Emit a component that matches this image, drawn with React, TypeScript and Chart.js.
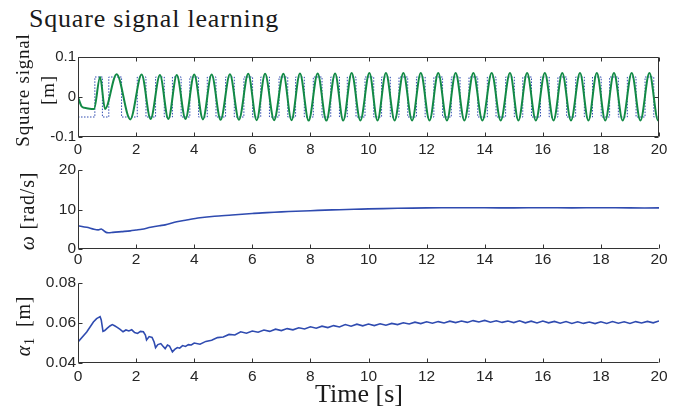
import React, { useEffect, useRef } from "react";
import { Chart, registerables } from "chart.js";

Chart.register(...registerables);

// Shared time axis
const timeTicks = [0, 2, 4, 6, 8, 10, 12, 14, 16, 18, 20];

// Learned oscillator output: turning points (s, m)
const outTimes = [
  0, 0.13, 0.3, 0.55, 0.76, 0.93, 1.33, 1.8, 2.19, 2.5, 2.82, 3.11, 3.4, 3.7, 4.0, 4.3, 4.6, 4.91,
  5.23, 5.54, 5.86, 6.15, 6.44, 6.75, 7.07, 7.35, 7.64, 7.94, 8.25, 8.55, 8.85, 9.13, 9.42, 9.72,
  10.03, 10.31, 10.6, 10.9, 11.2, 11.5, 11.8, 12.1, 12.4, 12.7, 13.0, 13.3, 13.61, 13.92, 14.24,
  14.55, 14.87, 15.16, 15.46, 15.76, 16.07, 16.37, 16.67, 16.97, 17.28, 17.57, 17.86, 18.15, 18.45,
  18.75, 19.06, 19.36, 19.67, 19.97, 20.0,
];
const outValues = [
  0, -0.024, -0.028, -0.03, 0.05, -0.03, 0.057, -0.056, 0.056, -0.055, 0.055, -0.055, 0.055, -0.055,
  0.056, -0.056, 0.056, -0.057, 0.057, -0.057, 0.058, -0.058, 0.058, -0.058, 0.058, -0.058, 0.059,
  -0.059, 0.059, -0.059, 0.059, -0.059, 0.06, -0.059, 0.06, -0.059, 0.06, -0.059, 0.06, -0.059, 0.06,
  -0.059, 0.06, -0.059, 0.06, -0.059, 0.06, -0.059, 0.06, -0.059, 0.06, -0.059, 0.06, -0.059, 0.06,
  -0.059, 0.06, -0.059, 0.06, -0.059, 0.06, -0.059, 0.06, -0.059, 0.06, -0.059, 0.06, -0.059, -0.0588,
];

// Teaching square signal: switching instants (s) and the level after each switch (m)
const squareTimes = [
  0, 0.58, 0.84, 1.06, 1.5, 2.04, 2.34, 2.67, 2.97, 3.25, 3.55, 3.85, 4.15, 4.45, 4.75, 5.08, 5.38,
  5.71, 6.01, 6.29, 6.59, 6.92, 7.22, 7.49, 7.79, 8.1, 8.4, 8.7, 9.0, 9.27, 9.57, 9.88, 10.18, 10.45,
  10.75, 11.05, 11.35, 11.65, 11.95, 12.25, 12.55, 12.85, 13.15, 13.46, 13.76, 14.09, 14.39, 14.72,
  15.02, 15.31, 15.61, 15.92, 16.22, 16.52, 16.82, 17.13, 17.43, 17.71, 18.01, 18.3, 18.6, 18.91,
  19.21, 19.52, 19.82, 20.0,
];
const squareLevels = [
  -0.05, 0.05, -0.05, 0.05, -0.05, 0.05, -0.05, 0.05, -0.05, 0.05, -0.05, 0.05, -0.05, 0.05, -0.05,
  0.05, -0.05, 0.05, -0.05, 0.05, -0.05, 0.05, -0.05, 0.05, -0.05, 0.05, -0.05, 0.05, -0.05, 0.05,
  -0.05, 0.05, -0.05, 0.05, -0.05, 0.05, -0.05, 0.05, -0.05, 0.05, -0.05, 0.05, -0.05, 0.05, -0.05,
  0.05, -0.05, 0.05, -0.05, 0.05, -0.05, 0.05, -0.05, 0.05, -0.05, 0.05, -0.05, 0.05, -0.05, 0.05,
  -0.05, 0.05, -0.05, 0.05, -0.05, -0.05,
];

// Frequency estimate (s, rad/s)
const omegaTimes = [
  0, 0.3, 0.55, 0.7, 0.8, 0.9, 1.0, 1.2, 1.5, 1.8, 2.0, 2.2, 2.5, 2.8, 3.0, 3.4, 3.7, 4.2, 4.7,
  5.3, 6.0, 6.5, 7.0, 7.5, 8.0, 8.5, 9.0, 9.5, 10, 11, 12, 13, 14, 15, 16, 17, 18, 19, 20,
];
const omegaValues = [
  5.9, 5.5, 5.0, 4.85, 5.05, 4.55, 4.15, 4.2, 4.4, 4.6, 4.8, 5.0, 5.5, 5.9, 6.1, 6.9, 7.3, 7.9, 8.3,
  8.6, 9.0, 9.2, 9.4, 9.55, 9.7, 9.85, 9.95, 10.05, 10.15, 10.3, 10.4, 10.45, 10.45, 10.4, 10.45,
  10.4, 10.45, 10.4, 10.4,
];

// Amplitude estimate (s, m)
const alphaTimes = [
  0, 0.3, 0.53, 0.64, 0.7, 0.76, 0.8, 0.86, 0.92, 1.0, 1.1, 1.18, 1.26, 1.35, 1.45, 1.55, 1.65, 1.75,
  1.85, 1.95, 2.05, 2.15, 2.25, 2.32, 2.36, 2.45, 2.55, 2.62, 2.67, 2.75, 2.85, 2.92, 3.0, 3.08, 3.15,
  3.25, 3.33, 3.42, 3.5, 3.6, 3.7, 3.8, 3.9,
  4.0, 4.2, 4.4, 4.6, 4.8, 5.0, 5.2, 5.4, 5.6, 5.8, 6.0, 6.2, 6.4, 6.6, 6.8, 7.0, 7.2, 7.4, 7.6, 7.8,
  8.0, 8.2, 8.4, 8.6, 8.8, 9.0, 9.2, 9.4, 9.6, 9.8, 10.0, 10.2, 10.4, 10.6, 10.8, 11.0, 11.2, 11.4,
  11.6, 11.8, 12.0, 12.2, 12.4, 12.6, 12.8, 13.0, 13.2, 13.4, 13.6, 13.8, 14.0, 14.2, 14.4, 14.6,
  14.8, 15.0, 15.2, 15.4, 15.6, 15.8, 16.0, 16.2, 16.4, 16.6, 16.8, 17.0, 17.2, 17.4, 17.6, 17.8,
  18.0, 18.2, 18.4, 18.6, 18.8, 19.0, 19.2, 19.4, 19.6, 19.8, 20.0,
];
const alphaValues = [
  0.0505, 0.0555, 0.0605, 0.0622, 0.0627, 0.0632, 0.0615, 0.0558, 0.0562, 0.0573, 0.0585, 0.0592,
  0.0586, 0.0578, 0.0568, 0.0556, 0.0565, 0.056, 0.0566, 0.0552, 0.0548, 0.0558, 0.0556, 0.054,
  0.0515, 0.0532, 0.0528, 0.0505, 0.0477, 0.0492, 0.0497, 0.0485, 0.0472, 0.049, 0.0485, 0.0456,
  0.0468, 0.0477, 0.0474, 0.0487, 0.0483, 0.0492, 0.049,
  0.05, 0.0494, 0.0508, 0.0514, 0.0527, 0.053, 0.0543, 0.054, 0.0556, 0.0549, 0.056, 0.0554, 0.0565,
  0.0558, 0.0569, 0.0562, 0.0572, 0.0566, 0.0576, 0.057, 0.0581, 0.0574, 0.0584, 0.0577, 0.0587,
  0.058, 0.0592, 0.0584, 0.0594, 0.0586, 0.0595, 0.0587, 0.0596, 0.0589, 0.0598, 0.0592, 0.0601,
  0.0595, 0.0604, 0.0597, 0.0606, 0.0599, 0.0607, 0.06, 0.0609, 0.0602, 0.061, 0.0603, 0.0612,
  0.0605, 0.0613, 0.0604, 0.0611, 0.0603, 0.061, 0.0602, 0.0611, 0.0601, 0.0609, 0.06, 0.061,
  0.0601, 0.0608, 0.0599, 0.0607, 0.0598, 0.0606, 0.0598, 0.0605, 0.0597, 0.0606, 0.0598, 0.0607,
  0.0599, 0.0606, 0.0598, 0.0607, 0.06, 0.0608, 0.0601, 0.061,
];

const squareYTicks = [-0.1, 0, 0.1];
const omegaYTicks = [0, 10, 20];
const alphaYTicks = [0.04, 0.06, 0.08];

const W = 690;
const AXIS_LEFT = 78;
const PAD_RIGHT = 31;
const SANS = "'Liberation Sans', Arial, sans-serif";
const TICK_COLOR = "#262626";
const GREEN = "#128a45";
const BLUE = "#2f4bb0";

const pts = (xs: number[], ys: number[]) => xs.map((x, i) => ({ x, y: ys[i] }));

// Axis lines and inward-pointing tick marks, MATLAB style
const framePlugin = {
  id: "frame",
  afterDatasetsDraw(chart: any, _args: any, opts: any) {
    const { ctx, chartArea: a, scales } = chart;
    const xs = scales.x;
    const ys = scales.y;
    const len = opts.tickLen ?? 4;
    ctx.save();
    ctx.lineWidth = 1;
    ctx.strokeStyle = opts.color || "#333";
    const L = a.left + 0.5;
    const R = a.right - 0.5;
    const T = a.top + 0.5;
    const B = a.bottom - 0.5;
    ctx.beginPath();
    ctx.moveTo(L, T);
    ctx.lineTo(L, B);
    ctx.lineTo(R, B);
    if (opts.box) {
      ctx.lineTo(R, T);
      ctx.lineTo(L, T);
    }
    for (const t of xs.ticks) {
      const px = Math.round(xs.getPixelForValue(t.value)) + 0.5;
      ctx.moveTo(px, B);
      ctx.lineTo(px, B - len);
      if (opts.box) {
        ctx.moveTo(px, T);
        ctx.lineTo(px, T + len);
      }
    }
    for (const t of ys.ticks) {
      const py = Math.round(ys.getPixelForValue(t.value)) + 0.5;
      ctx.moveTo(L, py);
      ctx.lineTo(L + len, py);
      if (opts.box) {
        ctx.moveTo(R, py);
        ctx.lineTo(R - len, py);
      }
    }
    ctx.stroke();
    ctx.restore();
  },
};

function makeOptions(o: {
  yMin: number;
  yMax: number;
  yTicks: number[];
  padTop: number;
  xHeight: number;
  xPad: number;
  box: boolean;
  fontSize: number;
}) {
  const font = { family: SANS, size: o.fontSize };
  return {
    responsive: false,
    animation: false as const,
    events: [],
    layout: { padding: { top: o.padTop, right: PAD_RIGHT, left: 0, bottom: 0 } },
    plugins: {
      legend: { display: false },
      tooltip: { enabled: false },
      frame: { box: o.box, color: "#333", tickLen: 4 },
    },
    elements: { point: { radius: 0 } },
    scales: {
      x: {
        type: "linear" as const,
        min: 0,
        max: 20,
        afterBuildTicks: (s: any) => {
          s.ticks = timeTicks.map((v) => ({ value: v }));
        },
        ticks: {
          font,
          color: TICK_COLOR,
          padding: o.xPad,
          maxRotation: 0,
          autoSkip: false,
          callback: (v: any) => String(v),
        },
        grid: { display: false, drawTicks: false },
        border: { display: false },
        afterFit: (s: any) => {
          s.height = o.xHeight;
        },
      },
      y: {
        type: "linear" as const,
        min: o.yMin,
        max: o.yMax,
        afterBuildTicks: (s: any) => {
          s.ticks = o.yTicks.map((v) => ({ value: v }));
        },
        ticks: {
          font,
          color: TICK_COLOR,
          padding: 2,
          callback: (v: any) => String(Math.round(v * 1000) / 1000),
        },
        grid: { display: false, drawTicks: false },
        border: { display: false },
        afterFit: (s: any) => {
          s.width = AXIS_LEFT;
        },
      },
    },
  };
}

const serif = "'Liberation Serif', 'Times New Roman', serif";

function RotLabel({ cx, cy, size, lineHeight, children }: any) {
  return (
    <div
      style={{
        position: "absolute",
        left: cx,
        top: cy,
        transform: "translate(-50%, -50%) rotate(-90deg)",
        fontFamily: serif,
        fontSize: size,
        letterSpacing: "0.8px",
        lineHeight: lineHeight + "px",
        whiteSpace: "nowrap",
        textAlign: "center",
        color: "#1a1a1a",
      }}
    >
      {children}
    </div>
  );
}

export default function App() {
  const topRef = useRef<HTMLCanvasElement>(null);
  const midRef = useRef<HTMLCanvasElement>(null);
  const botRef = useRef<HTMLCanvasElement>(null);

  useEffect(() => {
    const charts: Chart[] = [];

    charts.push(
      new Chart(topRef.current!, {
        type: "line",
        data: {
          datasets: [
            {
              data: pts(outTimes, outValues),
              borderColor: GREEN,
              borderWidth: 2,
              cubicInterpolationMode: "monotone",
              fill: false,
            },
            {
              data: pts(squareTimes, squareLevels),
              borderColor: BLUE,
              borderWidth: 1,
              borderDash: [1.5, 1.5],
              stepped: "before",
              fill: false,
            },
          ],
        },
        options: makeOptions({
          yMin: -0.1,
          yMax: 0.1,
          yTicks: squareYTicks,
          padTop: 17,
          xHeight: 28,
          xPad: 4,
          box: true,
          fontSize: 15,
        }) as any,
        plugins: [framePlugin],
      })
    );

    charts.push(
      new Chart(midRef.current!, {
        type: "line",
        data: {
          datasets: [
            {
              data: pts(omegaTimes, omegaValues),
              borderColor: BLUE,
              borderWidth: 1.6,
              tension: 0.3,
              fill: false,
            },
          ],
        },
        options: makeOptions({
          yMin: 0,
          yMax: 20,
          yTicks: omegaYTicks,
          padTop: 15,
          xHeight: 21,
          xPad: 1,
          box: false,
          fontSize: 15.5,
        }) as any,
        plugins: [framePlugin],
      })
    );

    charts.push(
      new Chart(botRef.current!, {
        type: "line",
        data: {
          datasets: [
            {
              data: pts(alphaTimes, alphaValues),
              borderColor: BLUE,
              borderWidth: 1.6,
              fill: false,
            },
          ],
        },
        options: makeOptions({
          yMin: 0.04,
          yMax: 0.08,
          yTicks: alphaYTicks,
          padTop: 13,
          xHeight: 22,
          xPad: 4,
          box: false,
          fontSize: 15.5,
        }) as any,
        plugins: [framePlugin],
      })
    );

    return () => charts.forEach((c) => c.destroy());
  }, []);

  return (
    <div
      style={{
        position: "fixed",
        left: 0,
        top: 0,
        width: W,
        height: 408,
        background: "#fff",
        overflow: "hidden",
      }}
    >
      <div
        style={{
          position: "absolute",
          left: 29,
          top: 6,
          fontFamily: serif,
          fontSize: 26,
          letterSpacing: "0.8px",
          lineHeight: 1,
          whiteSpace: "nowrap",
          color: "#1a1a1a",
        }}
      >
        Square signal learning
      </div>

      <canvas ref={topRef} width={W} height={125} style={{ position: "absolute", left: 0, top: 40 }} />
      <canvas ref={midRef} width={W} height={115} style={{ position: "absolute", left: 0, top: 155 }} />
      <canvas ref={botRef} width={W} height={115} style={{ position: "absolute", left: 0, top: 270 }} />

      <RotLabel cx={34.5} cy={90} size={19} lineHeight={25}>
        Square signal
        <br />
        [m]
      </RotLabel>
      <RotLabel cx={27} cy={211} size={20} lineHeight={22}>
        <i>ω</i> [rad/s]
      </RotLabel>
      <RotLabel cx={26} cy={326} size={20} lineHeight={22}>
        <i>α</i>
        <sub style={{ fontSize: 14, verticalAlign: "-4px", fontStyle: "normal" }}>1</sub>
        <span style={{ marginLeft: 10 }}>[m]</span>
      </RotLabel>

      <div
        style={{
          position: "absolute",
          left: 359,
          top: 381,
          transform: "translateX(-50%)",
          fontFamily: serif,
          fontSize: 26,
          lineHeight: 1,
          whiteSpace: "nowrap",
          color: "#1a1a1a",
        }}
      >
        Time [s]
      </div>
    </div>
  );
}
